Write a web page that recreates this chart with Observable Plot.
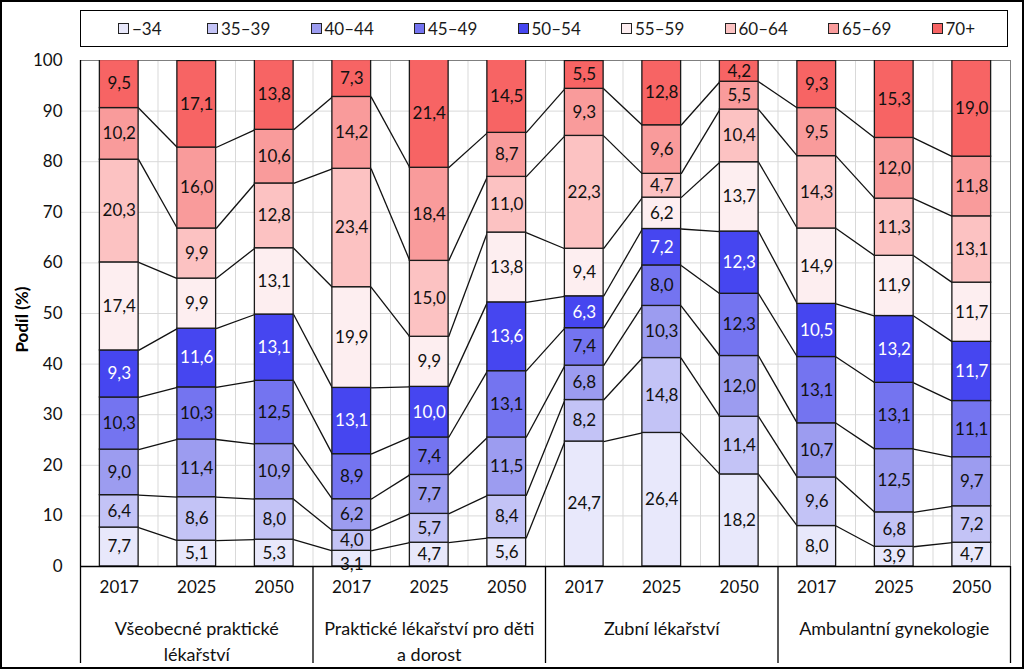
<!DOCTYPE html>
<html><head><meta charset="utf-8">
<script src="https://cdn.jsdelivr.net/npm/d3@7"></script>
<script src="https://cdn.jsdelivr.net/npm/@observablehq/plot@0.6"></script>
<style>
html,body{margin:0;padding:0;background:#fff;}
#chart{position:relative;width:1024px;height:669px;box-sizing:border-box;border:2px solid #000;font-family:Lato,"Open Sans",sans-serif;background:#fff;overflow:hidden;}
#legend{margin:8px 0 0 78px;width:928px;height:37px;box-sizing:border-box;border:1.5px solid #000;display:flex;align-items:center;padding-left:37px;font-size:17px;color:#1a1a1a;}
#legend .item{display:flex;align-items:center;gap:3px;white-space:nowrap;width:103.5px;flex:none;}
#legend .item:first-child{width:89px;}
#legend .sw{width:9px;height:9px;border:1px solid #222;flex:none;}
#plot{margin-top:3px;}
#plot svg{display:block;}
</style></head>
<body>
<div id="chart">
  <div id="legend"></div>
  <div id="plot"></div>
</div>
<script>
// ---- data ----
const groups = ["Všeobecné praktické\nlékařství", "Praktické lékařství pro děti\na dorost", "Zubní lékařství", "Ambulantní gynekologie"];
const years = ["2017", "2025", "2050"];
const ageClasses = ["−34", "35–39", "40–44", "45–49", "50–54", "55–59", "60–64", "65–69", "70+"];
const ageColors = ["#e8e8fb", "#c3c3f6", "#9c9cf0", "#7474f0", "#4646f0", "#fdeef0", "#fcc2c2", "#f99b9b", "#f76464"];
// values per age class, bars ordered group by group, years 2017/2025/2050
const v_34   = [7.7, 5.1, 5.3,   3.1, 4.7, 5.6,   24.7, 26.4, 18.2,  8.0, 3.9, 4.7];
const v35_39 = [6.4, 8.6, 8.0,   4.0, 5.7, 8.4,   8.2, 14.8, 11.4,   9.6, 6.8, 7.2];
const v40_44 = [9.0, 11.4, 10.9, 6.2, 7.7, 11.5,  6.8, 10.3, 12.0,   10.7, 12.5, 9.7];
const v45_49 = [10.3, 10.3, 12.5, 8.9, 7.4, 13.1, 7.4, 8.0, 12.3,    13.1, 13.1, 11.1];
const v50_54 = [9.3, 11.6, 13.1, 13.1, 10.0, 13.6, 6.3, 7.2, 12.3,   10.5, 13.2, 11.7];
const v55_59 = [17.4, 9.9, 13.1, 19.9, 9.9, 13.8, 9.4, 6.2, 13.7,    14.9, 11.9, 11.7];
const v60_64 = [20.3, 9.9, 12.8, 23.4, 15.0, 11.0, 22.3, 4.7, 10.4,  14.3, 11.3, 13.1];
const v65_69 = [10.2, 16.0, 10.6, 14.2, 18.4, 8.7, 9.3, 9.6, 5.5,    9.5, 12.0, 11.8];
const v70    = [9.5, 17.1, 13.8, 7.3, 21.4, 14.5,  5.5, 12.8, 4.2,   9.3, 15.3, 19.0];
const yTicks = [0, 10, 20, 30, 40, 50, 60, 70, 80, 90, 100];

const series = [v_34, v35_39, v40_44, v45_49, v50_54, v55_59, v60_64, v65_69, v70];

// ---- legend ----
const legend = document.getElementById("legend");
ageClasses.forEach((c, k) => {
  const it = document.createElement("div"); it.className = "item";
  const sw = document.createElement("span"); sw.className = "sw"; sw.style.background = ageColors[k];
  const tx = document.createElement("span"); tx.textContent = c;
  it.appendChild(sw); it.appendChild(tx); legend.appendChild(it);
});

// ---- layout ----
const W = 1020, H = 617, mT = 10, mB = 101, mL = 78, mR = 12;
const plotH = H - mT - mB;
const minLabelGap = 24 * 100 / plotH; // keep stacked labels ~24px apart (in y units)

// ---- derived table ----
const nBars = groups.length * years.length;
const bars = d3.range(nBars).map(i => ({i, group: Math.floor(i / years.length), year: years[i % years.length]}));
const rows = [];
const tops = series.map(() => []);
bars.forEach(b => {
  let acc = 0;
  const barRows = [];
  series.forEach((s, k) => {
    const lo = acc, hi = acc + s[b.i];
    barRows.push({i: b.i, k, cls: ageClasses[k], value: s[b.i], lo, hi, mid: (lo + hi) / 2});
    tops[k][b.i] = hi;
    acc = hi;
  });
  // label placement: walk top-down, push a label down if too close to the one above
  let prev = Infinity;
  for (let k = barRows.length - 1; k >= 0; k--) {
    const r = barRows[k];
    r.ly = Math.min(r.mid, prev - minLabelGap);
    prev = r.ly;
  }
  rows.push(...barRows);
});
const links = [];
for (let k = 0; k < series.length - 1; k++) {
  for (let i = 0; i < nBars - 1; i++) {
    links.push({a: i, b: i + 1, ya: tops[k][i], yb: tops[k][i + 1]});
  }
}
const half = 0.25; // bar half-width in category units (style)
const groupEdges = d3.range(0, nBars + 1, years.length);
const fmt = v => v.toFixed(1).replace(".", ",");

const chart = Plot.plot({
  width: W, height: H,
  marginTop: mT, marginBottom: mB, marginLeft: mL, marginRight: mR,
  style: {fontFamily: "Lato, 'Open Sans', sans-serif", fontSize: "17px", color: "#1a1a1a", background: "#fff"},
  x: {domain: [0, nBars], axis: null},
  y: {domain: [0, 100], axis: null},
  color: {domain: ageClasses, range: ageColors},
  marks: [
    Plot.gridY(yTicks, {stroke: "#d9d9d9", strokeOpacity: 1}),
    Plot.ruleX(d3.range(1, nBars), {stroke: "#d9d9d9", strokeOpacity: 1}),
    Plot.frame({stroke: "#7f7f7f"}),
    Plot.link(links, {x1: d => d.a + 0.5 + half, y1: "ya", x2: d => d.b + 0.5 - half, y2: "yb", stroke: "#111", strokeWidth: 1.3}),
    Plot.rect(rows, {x1: d => d.i + 0.5 - half, x2: d => d.i + 0.5 + half, y1: "lo", y2: "hi", fill: "cls", stroke: "#1a1a1a", strokeWidth: 1.3, clip: true}),
    Plot.ruleY([0], {stroke: "#000", strokeWidth: 1.3}),
    Plot.ruleX([0], {stroke: "#000", strokeWidth: 1.3}),
    Plot.ruleX(groupEdges, {stroke: "#000", strokeWidth: 1.3, insetTop: plotH, insetBottom: -97}),
    Plot.text(rows, {x: d => d.i + 0.5, y: "ly", text: d => fmt(d.value), fill: d => d.k === 4 ? "#ffffff" : "#111", fontSize: 17}),
    Plot.axisY(yTicks, {tickSize: 0, tickPadding: 18, label: null, fontSize: 17, fill: "#111"}),
    Plot.text(["Podíl (%)"], {frameAnchor: "left", rotate: -90, dx: -58, dy: 39, fontWeight: "bold", fontSize: 17, fill: "#000"}),
    Plot.text(bars, {x: d => d.i + 0.5, frameAnchor: "bottom", dy: 26, text: "year", fontSize: 17, fill: "#111"}),
    Plot.text(groups, {x: (d, g) => g * years.length + years.length / 2, frameAnchor: "bottom", lineAnchor: "top", dy: 51, lineHeight: 1.4, text: d => d, fontSize: 18, fill: "#111"})
  ]
});
document.getElementById("plot").appendChild(chart);
</script>
</body></html>
